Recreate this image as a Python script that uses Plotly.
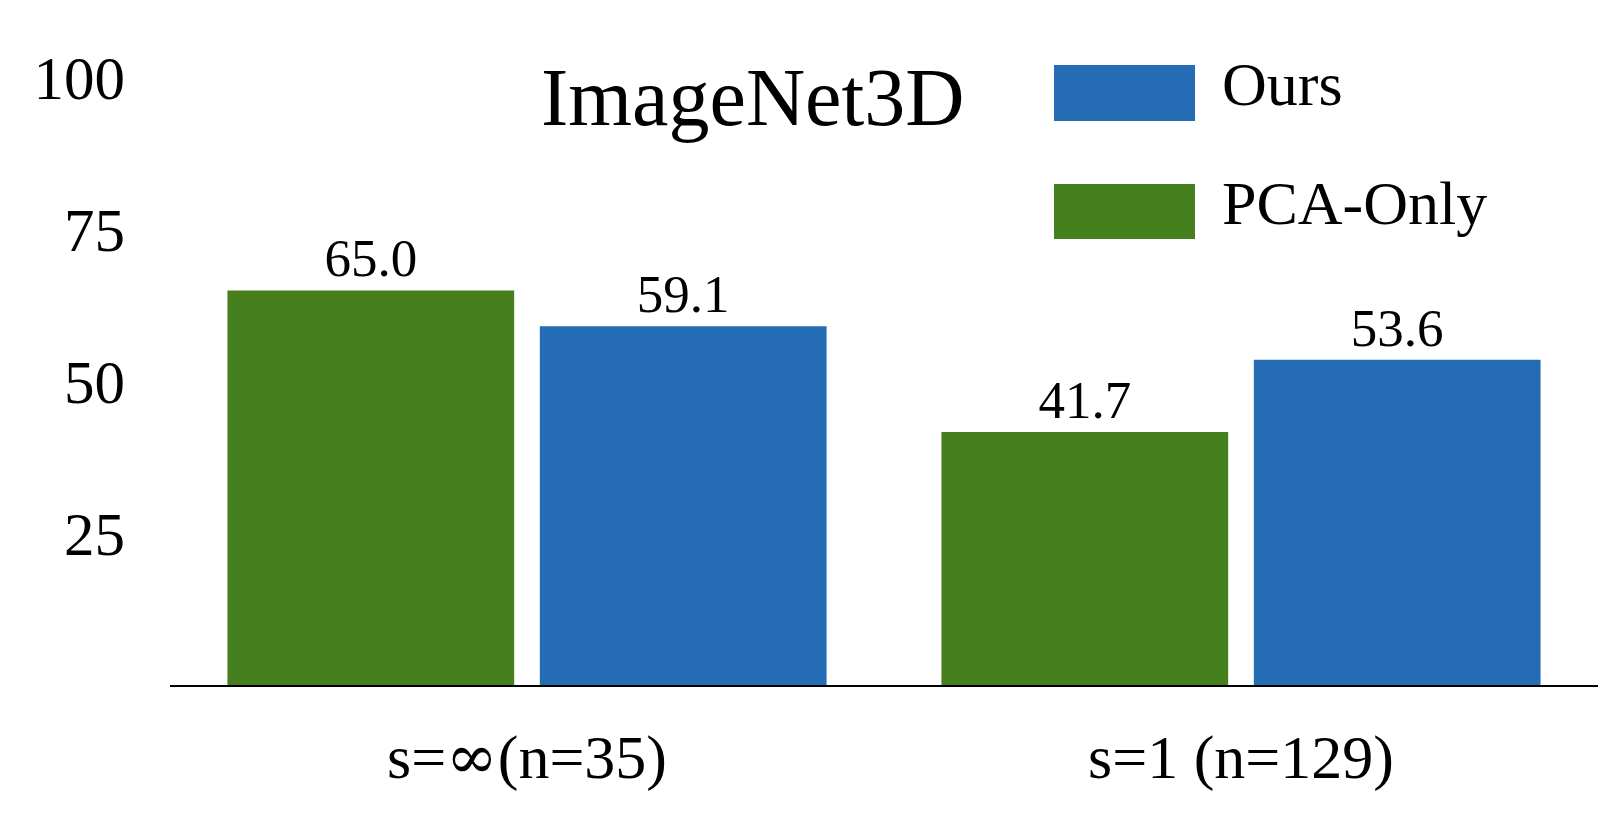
import plotly.graph_objects as go

categories = ["s=∞(n=35)", "s=1 (n=129)"]
tick_text = ['s=<span style="font-family:DejaVu Serif">∞</span>(n=35)', "s=1 (n=129)"]
series_names = ["PCA-Only", "Ours"]
pca_only = [65.0, 41.7]
ours = [59.1, 53.6]
y_ticks = [25, 50, 75, 100]
title_text = "ImageNet3D"

GREEN = "#467F1E"
BLUE = "#246CB3"
FONT = "Liberation Serif, Times New Roman, serif"

fig = go.Figure()
for name, vals, col in [(series_names[0], pca_only, GREEN), (series_names[1], ours, BLUE)]:
    fig.add_trace(go.Bar(
        x=categories, y=vals, name=name, marker=dict(color=col, line=dict(width=0)),
        text=[f"{v:.1f}" for v in vals], textposition="outside",
        textfont=dict(family=FONT, size=53, color="black"), cliponaxis=False,
        showlegend=False,
    ))

# plot area pixel geometry helpers
L, R, T, B = 170, 19, 78, 150
W, H = 1617, 835
pw, ph = W - L - R, H - T - B
def px(x):
    return (x - L) / pw
def py(y):
    return (H - B - y) / ph

shapes = []
annotations = []
legend_items = [(series_names[1], BLUE, 65, 121, 84), (series_names[0], GREEN, 184, 239, 203)]
for name, col, y0, y1, ty in legend_items:
    shapes.append(dict(type="rect", xref="paper", yref="paper",
                       x0=px(1054), x1=px(1195), y0=py(y1), y1=py(y0),
                       fillcolor=col, line=dict(width=0)))
    annotations.append(dict(text=name, xref="paper", yref="paper", x=px(1220), y=py(ty),
                            xanchor="left", yanchor="middle", showarrow=False,
                            font=dict(family=FONT, size=62, color="black")))
annotations.append(dict(text=title_text, xref="paper", yref="paper", x=px(753), y=py(97),
                        xanchor="center", yanchor="middle", showarrow=False,
                        font=dict(family=FONT, size=82, color="black")))

fig.update_layout(
    width=W, height=H,
    margin=dict(l=L, r=R, t=T, b=B, pad=0),
    paper_bgcolor="white", plot_bgcolor="white",
    barmode="group", bargap=0.125, bargroupgap=0.082,
    shapes=shapes, annotations=annotations,
    font=dict(family=FONT, color="black"),
)
fig.update_xaxes(showline=True, linecolor="black", linewidth=2, ticks="", showgrid=False,
                 tickmode="array", tickvals=categories, ticktext=tick_text,
                 tickfont=dict(family=FONT, size=62, color="black"), ticklabelstandoff=17)
fig.update_yaxes(range=[0, 100], tickvals=y_ticks, showline=False, showgrid=False, zeroline=False,
                 ticks="", tickfont=dict(family=FONT, size=61, color="black"), ticklabelstandoff=44)

fig.write_html("out.html")
